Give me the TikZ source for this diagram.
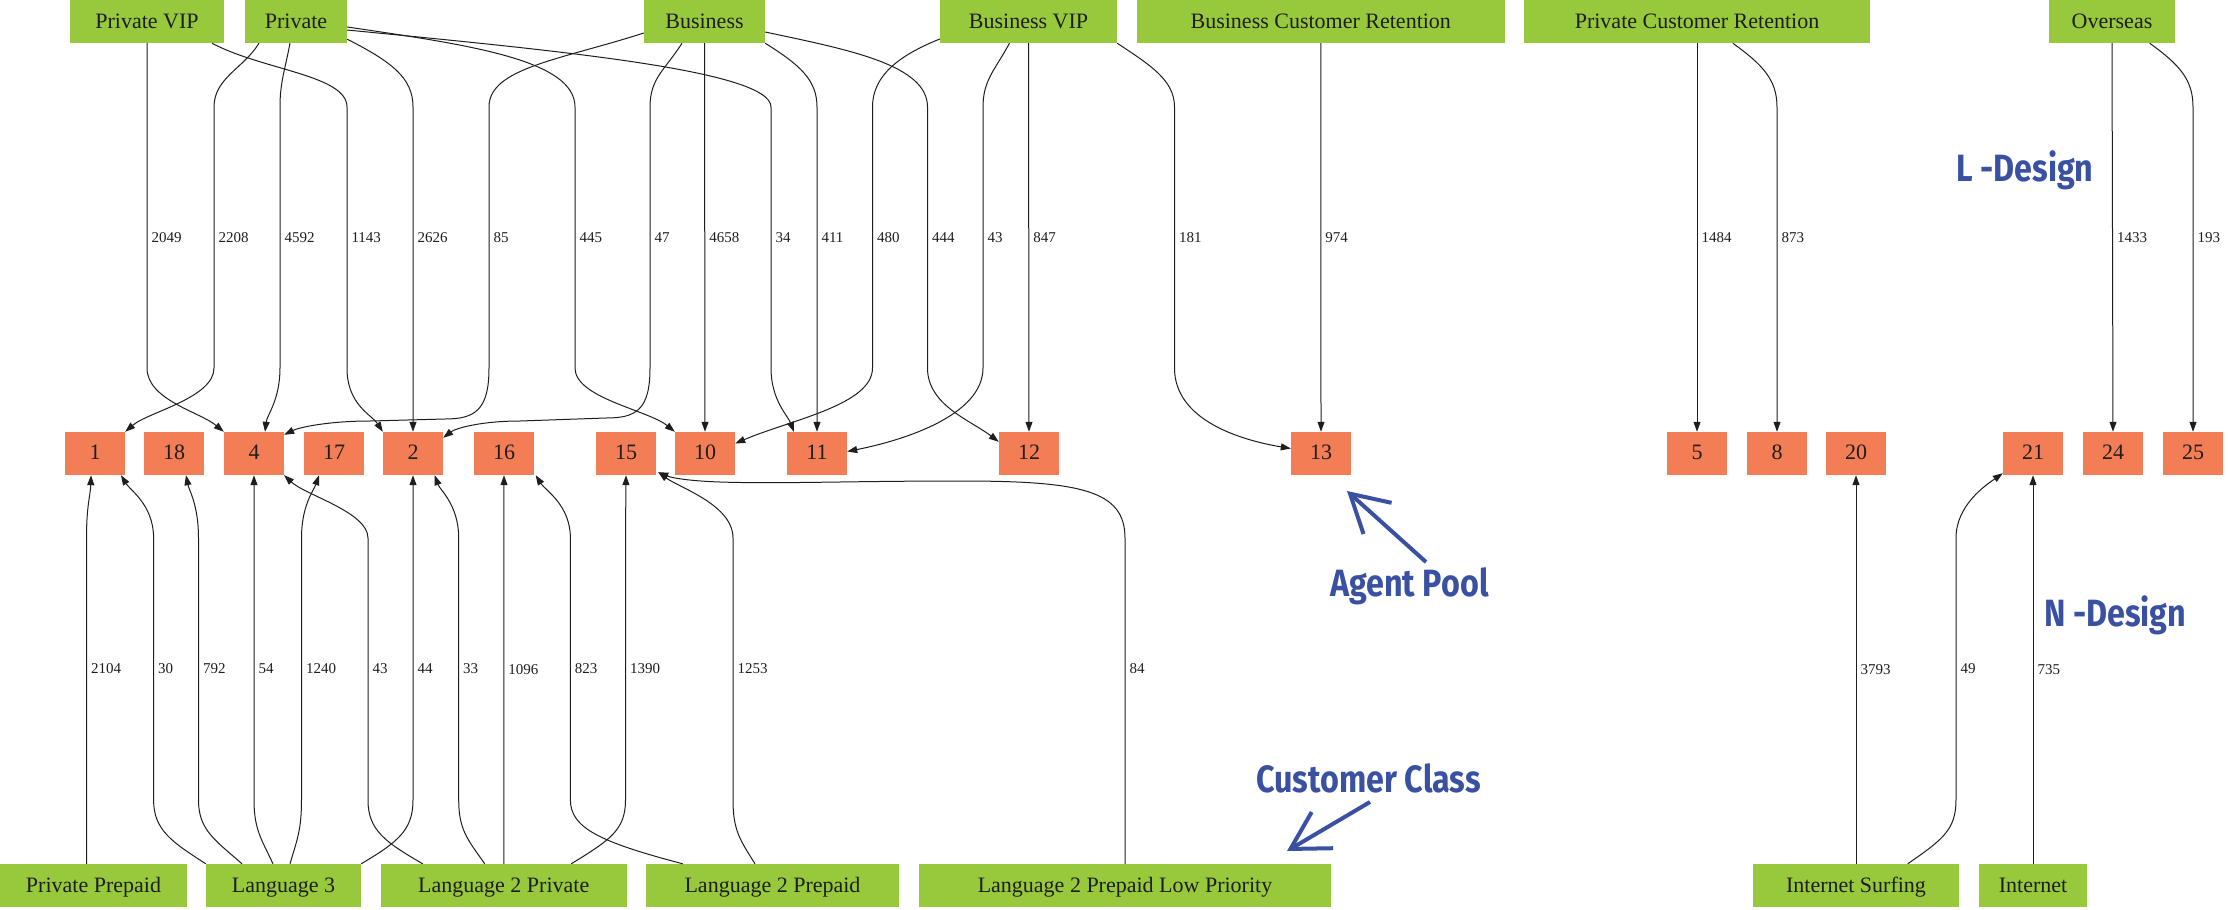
\documentclass[tikz,border=0pt]{standalone}
\usepackage{fontspec}
\setmainfont{Liberation Serif}
\newfontfamily\notefont[FakeStretch=0.85]{Fira Sans}
\usetikzlibrary{arrows.meta}
\definecolor{clsgreen}{HTML}{98C93C}
\definecolor{poolorange}{HTML}{F37D55}
\definecolor{noteblue}{HTML}{3A51A2}
\definecolor{ink}{HTML}{1E1E1E}
\begin{document}
\begin{tikzpicture}[x=1pt,y=1pt,
  cls/.style={fill=clsgreen, minimum height=43pt, inner sep=0pt, text height=13pt, text depth=0pt,
    text=ink, font=\fontsize{22}{26}\selectfont},
  pool/.style={fill=poolorange, minimum width=60pt, minimum height=43pt, inner sep=0pt,
    text height=12pt, text depth=0pt, text=ink, font=\fontsize{22}{26}\selectfont},
  flow/.style={draw=ink, line width=1pt, -{Triangle[length=10pt,width=7pt]}},
  elab/.style={anchor=west, inner sep=0pt, xshift=4pt, text=ink, font=\fontsize{15}{18}\selectfont},
  note/.style={anchor=base west, inner sep=0pt, text=noteblue,
    font=\notefont\bfseries\fontsize{38}{40}\selectfont},
  notearrow/.style={draw=noteblue, line width=4pt, -{Straight Barb[length=37pt,width=42pt]}}
]
\useasboundingbox (0,0) rectangle (2228,-910);

% customer classes, top row
\node[cls, minimum width=154.5pt] (pvip) at (147,-21.5) {Private VIP};
\node[cls, minimum width=102pt] (priv) at (296,-21.5) {Private};
\node[cls, minimum width=121pt] (bus) at (704.5,-21.5) {Business};
\node[cls, minimum width=177pt] (bvip) at (1028.5,-21.5) {Business VIP};
\node[cls, minimum width=367.6pt] (bcr) at (1320.8,-21.5) {Business Customer Retention};
\node[cls, minimum width=346pt] (pcr) at (1697,-21.5) {Private Customer Retention};
\node[cls, minimum width=126.5pt] (ovs) at (2112,-21.5) {Overseas};

% agent pools
\node[pool] (n1) at (95,-453.5) {1};
\node[pool] (n18) at (174,-453.5) {18};
\node[pool] (n4) at (254,-453.5) {4};
\node[pool] (n17) at (334,-453.5) {17};
\node[pool] (n2) at (413,-453.5) {2};
\node[pool] (n16) at (504,-453.5) {16};
\node[pool] (n15) at (626,-453.5) {15};
\node[pool] (n10) at (705,-453.5) {10};
\node[pool] (n11) at (817,-453.5) {11};
\node[pool] (n12) at (1029,-453.5) {12};
\node[pool] (n13) at (1321,-453.5) {13};
\node[pool] (n5) at (1697,-453.5) {5};
\node[pool] (n8) at (1777,-453.5) {8};
\node[pool] (n20) at (1856,-453.5) {20};
\node[pool] (n21) at (2033,-453.5) {21};
\node[pool] (n24) at (2113,-453.5) {24};
\node[pool] (n25) at (2193,-453.5) {25};

% customer classes, bottom row
\node[cls, minimum width=187pt] (pp) at (93.5,-885.5) {Private Prepaid};
\node[cls, minimum width=155pt] (l3) at (283.5,-885.5) {Language 3};
\node[cls, minimum width=245.5pt] (l2p) at (503.75,-885.5) {Language 2 Private};
\node[cls, minimum width=253pt] (l2pp) at (772.5,-885.5) {Language 2 Prepaid};
\node[cls, minimum width=412pt] (l2plp) at (1125,-885.5) {Language 2 Prepaid Low Priority};
\node[cls, minimum width=205.5pt] (isurf) at (1856,-885.5) {Internet Surfing};
\node[cls, minimum width=108.6pt] (inet) at (2033,-885.5) {Internet};

% routing from the top row
\draw[flow] (pvip.south) -- (147,-107) -- node[elab] (w2049) {2049} (147,-368)
  .. controls (147,-400) and (200,-412) .. (n4.north west);
\draw[flow] ([xshift=-37pt]priv.south) .. controls (244,-68) and (214,-78) .. (214,-107)
  -- node[elab] (w2208) {2208} (214,-368) .. controls (214,-398) and (148,-412) .. (n1.north east);
\draw[flow] ([xshift=-6pt]priv.south) .. controls (285,-70) and (280,-82) .. (280,-107)
  -- node[elab] (w4592) {4592} (280,-368) .. controls (280,-400) and (267,-415) .. ([xshift=11pt]n4.north);
\draw[flow] ([xshift=65pt]pvip.south) .. controls (262,-70) and (347,-75) .. (347,-107)
  -- node[elab] (w1143) {1143} (347,-368) .. controls (347,-405) and (372,-415) .. (n2.north west);
\draw[flow] ([yshift=4pt]priv.south east) .. controls (392,-62) and (413,-78) .. (413,-107)
  -- node[elab] (w2626) {2626} (413,-368) -- (n2.north);
\draw[flow] ([yshift=-11.5pt]bus.west) .. controls (560,-60) and (489,-68) .. (489,-107)
  -- node[elab] (w85) {85} (489,-368) .. controls (489,-410) and (475,-419) .. (445,-419)
  -- (370,-421) .. controls (330,-421) and (300,-427) .. ([yshift=-3pt]n4.north east);
\draw[flow] ([yshift=-5.5pt]priv.east) .. controls (470,-45) and (575,-60) .. (575,-107)
  -- node[elab] (w445) {445} (575,-368) .. controls (575,-398) and (648,-410) .. (n10.north west);
\draw[flow] ([xshift=-22.5pt]bus.south) .. controls (665,-70) and (650,-78) .. (650,-107)
  -- node[elab] (w47) {47} (650,-368) .. controls (650,-410) and (636,-418) .. (606,-418)
  -- (520,-421) .. controls (482,-421) and (456,-428) .. ([yshift=-6pt]n2.north east);
\draw[flow] (bus.south) -- node[elab] (w4658) {4658} (n10.north);
\draw[flow] ([yshift=-8.5pt]priv.east) .. controls (550,-50) and (771,-70) .. (771,-107)
  -- node[elab] (w34) {34} (771,-368) .. controls (771,-400) and (788,-416) .. ([xshift=7pt]n11.north west);
\draw[flow] (bus.south east) .. controls (800,-65) and (817,-80) .. (817,-107)
  -- node[elab] (w411) {411} (817,-368) -- (n11.north);
\draw[flow] ([yshift=-17.5pt]bvip.west) .. controls (900,-55) and (872.5,-75) .. (872.5,-107)
  -- node[elab] (w480) {480} (872.5,-368) .. controls (872.5,-405) and (790,-420) .. ([yshift=10pt]n10.east);
\draw[flow] ([yshift=-10.5pt]bus.east) .. controls (850,-50) and (927.5,-65) .. (927.5,-107)
  -- node[elab] (w444) {444} (927.5,-368) .. controls (927.5,-405) and (970,-420) .. ([yshift=-10pt]n12.north west);
\draw[flow] ([xshift=-19pt]bvip.south) .. controls (995,-70) and (983,-80) .. (983,-107)
  -- node[elab] (w43a) {43} (983,-368) .. controls (983,-415) and (905,-440) .. ([yshift=2pt]n11.east);
\draw[flow] (bvip.south) -- node[elab] (w847) {847} (n12.north);
\draw[flow] (bvip.south east) .. controls (1150,-65) and (1174.5,-80) .. (1174.5,-107)
  -- node[elab] (w181) {181} (1174.5,-368) .. controls (1174.5,-420) and (1240,-440) .. ([yshift=5pt]n13.west);
\draw[flow] (bcr.south) -- node[elab] (w974) {974} (n13.north);
\draw[flow] (pcr.south) -- node[elab] (w1484) {1484} (n5.north);
\draw[flow] ([xshift=35.8pt]pcr.south) .. controls (1763,-65) and (1777,-80) .. (1777,-107)
  -- node[elab] (w873) {873} (1777,-368) -- (n8.north);
\draw[flow] (ovs.south) -- node[elab] (w1433) {1433} (n24.north);
\draw[flow] ([xshift=37.6pt]ovs.south) .. controls (2180,-65) and (2193,-80) .. (2193,-107)
  -- node[elab] (w193) {193} (2193,-368) -- (n25.north);

% routing from the bottom row
\draw[flow] ([xshift=-7pt]pp.north) -- (86.5,-800) -- node[elab] (w2104) {2104} (86.5,-538)
  .. controls (86.5,-505) and (90.5,-495) .. ([xshift=-4pt]n1.south);
\draw[flow] (l3.north west) .. controls (172,-842) and (153.6,-830) .. (153.6,-800)
  -- node[elab] (w30) {30} (153.6,-538) .. controls (153.6,-505) and (130,-490) .. ([xshift=26pt]n1.south);
\draw[flow] ([xshift=-41.5pt]l3.north) .. controls (215,-840) and (198.5,-830) .. (198.5,-800)
  -- node[elab] (w792) {792} (198.5,-538) .. controls (198.5,-505) and (189,-490) .. ([xshift=12pt]n18.south);
\draw[flow] ([xshift=-10.5pt]l3.north) .. controls (262,-840) and (254,-830) .. (254,-800)
  -- node[elab] (w54) {54} (254,-538) -- (n4.south);
\draw[flow] ([xshift=6.5pt]l3.north) .. controls (297,-840) and (301.5,-830) .. (301.5,-800)
  -- node[elab] (w1240) {1240} (301.5,-538) .. controls (301.5,-505) and (314,-490) .. ([xshift=-15pt]n17.south);
\draw[flow] ([xshift=-81pt]l2p.north) .. controls (385,-842) and (368,-830) .. (368,-800)
  -- node[elab] (w43b) {43} (368,-538) .. controls (368,-512) and (305,-495) .. (n4.south east);
\draw[flow] (l3.north east) .. controls (398,-842) and (413,-830) .. (413,-800)
  -- node[elab] (w44) {44} (413,-538) -- (n2.south);
\draw[flow] ([xshift=-19pt]l2p.north) .. controls (468,-840) and (458.7,-830) .. (458.7,-800)
  -- node[elab] (w33) {33} (458.7,-538) .. controls (458.7,-505) and (440,-490) .. ([xshift=21.7pt]n2.south);
\draw[flow] (l2p.north) -- node[elab] (w1096) {1096} (n16.south);
\draw[flow] ([xshift=-89.8pt]l2pp.north) .. controls (600,-842) and (570.4,-828) .. (570.4,-800)
  -- node[elab] (w823) {823} (570.4,-538) .. controls (570.4,-505) and (545,-490) .. ([xshift=1.5pt]n16.south east);
\draw[flow] ([xshift=67.5pt]l2p.north) .. controls (610,-840) and (625.5,-830) .. (625.5,-800)
  -- node[elab] (w1390) {1390} (625.5,-538) -- (n15.south);
\draw[flow] ([xshift=-17.5pt]l2pp.north) .. controls (740,-840) and (733,-830) .. (733,-800)
  -- node[elab] (w1253) {1253} (733,-538) .. controls (733,-505) and (680,-488) .. ([xshift=2pt,yshift=3pt]n15.south east);
\draw[flow] (l2plp.north) -- (1125,-800) -- node[elab] (w84) {84} (1125,-538)
  .. controls (1125,-490) and (1080,-481) .. (960,-481)
  .. controls (850,-481) and (780,-484) .. (720,-482)
  .. controls (690,-481) and (672,-478) .. ([xshift=2pt,yshift=3pt]n15.south east);
\draw[flow] (isurf.north) -- node[elab] (w3793) {3793} (n20.south);
\draw[flow] ([xshift=51.7pt]isurf.north) .. controls (1942,-840) and (1956,-830) .. (1956,-800)
  -- node[elab] (w49) {49} (1956,-538) .. controls (1956,-505) and (1986,-485) .. ([yshift=2pt]n21.south west);
\draw[flow] (inet.north) -- node[elab] (w735) {735} (n21.south);

% annotations
\node[note] (ldes) at (1956,-181.7) {L -Design};
\node[note] (ndes) at (2044,-626) {N -Design};
\node[note] (apl) at (1330,-596.7) {Agent Pool};
\node[note] (ccl) at (1256,-792.7) {Customer Class};
\coordinate (apTip) at (1347,-491);
\coordinate (ccTip) at (1287,-851);
\draw[notearrow] ([xshift=96pt,yshift=34.7pt]apl.base west) -- (apTip);
\draw[notearrow] ([xshift=114pt,yshift=-9.3pt]ccl.base west) -- (ccTip);
\end{tikzpicture}
\end{document}
